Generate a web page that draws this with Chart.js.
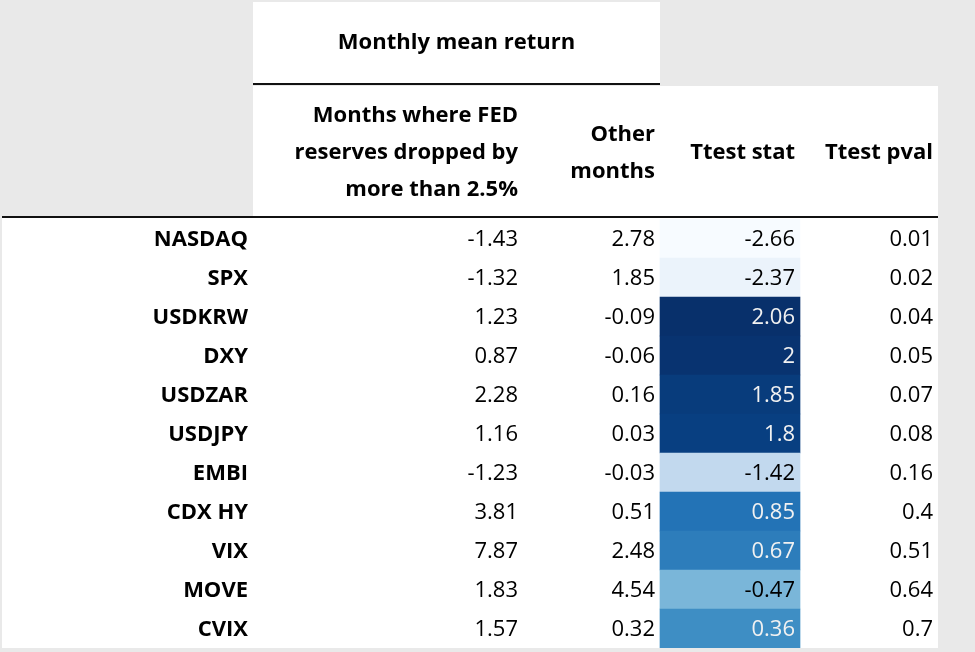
<!DOCTYPE html>
<html>
<head>
<meta charset="utf-8">
<script src="https://cdn.jsdelivr.net/npm/chart.js@4.4.0/dist/chart.umd.min.js"></script>
<style>
  html, body { margin: 0; padding: 0; background: #e9e9e9; }
  #wrap { width: 975px; height: 652px; }
</style>
</head>
<body>
<div id="wrap"><canvas id="tableChart" width="975" height="652"></canvas></div>
<script>
// table data
const rowLabels = ['NASDAQ', 'SPX', 'USDKRW', 'DXY', 'USDZAR', 'USDJPY', 'EMBI', 'CDX HY', 'VIX', 'MOVE', 'CVIX'];
const fedDropMean = [-1.43, -1.32, 1.23, 0.87, 2.28, 1.16, -1.23, 3.81, 7.87, 1.83, 1.57];
const otherMonthsMean = [2.78, 1.85, -0.09, -0.06, 0.16, 0.03, -0.03, 0.51, 2.48, 4.54, 0.32];
const ttestStat = [-2.66, -2.37, 2.06, 2, 1.85, 1.8, -1.42, 0.85, 0.67, -0.47, 0.36];
const ttestPval = [0.01, 0.02, 0.04, 0.05, 0.07, 0.08, 0.16, 0.4, 0.51, 0.64, 0.7];
const groupHeader = 'Monthly mean return';
const columnHeaders = [
    ['Months where FED', 'reserves dropped by', 'more than 2.5%'],
    ['Other', 'months'],
    ['Ttest stat'],
    ['Ttest pval']
];

// column edges along the x scale (index col, 4 value cols)
const colEdges = [0, 251, 521, 658, 798, 936];
const FONT = '"Open Sans", "Noto Sans", sans-serif';
const SIZE = 22;

// matplotlib Blues
const blues = ['#f7fbff', '#deebf7', '#c6dbef', '#9ecae1', '#6baed6', '#4292c6', '#2171b5', '#08519c', '#08306b'];
function hexToRgb(h) {
    return [parseInt(h.substr(1, 2), 16), parseInt(h.substr(3, 2), 16), parseInt(h.substr(5, 2), 16)];
}
function bluesAt(t) {
    t = Math.max(0, Math.min(1, t));
    const pos = t * (blues.length - 1);
    const i = Math.min(Math.floor(pos), blues.length - 2);
    const f = pos - i;
    const a = hexToRgb(blues[i]), b = hexToRgb(blues[i + 1]);
    return a.map((v, k) => Math.round(v + (b[k] - v) * f));
}
function luminance(rgb) {
    const lin = rgb.map(c => {
        c = c / 255;
        return c <= 0.03928 ? c / 12.92 : Math.pow((c + 0.055) / 1.055, 2.4);
    });
    return 0.2126 * lin[0] + 0.7152 * lin[1] + 0.0722 * lin[2];
}

const tMin = Math.min(...ttestStat), tMax = Math.max(...ttestStat);
const heatRgb = ttestStat.map(v => bluesAt((v - tMin) / (tMax - tMin)));
const heatColors = heatRgb.map(c => `rgb(${c[0]},${c[1]},${c[2]})`);
const heatText = heatRgb.map(c => luminance(c) < 0.408 ? '#f1f1f1' : '#000');

function fmt(v) { return String(v); }

const tablePlugin = {
    id: 'tablePlugin',
    beforeDraw(chart) {
        const { ctx, chartArea: a, scales: { x } } = chart;
        const px = v => x.getPixelForValue(v);
        ctx.save();
        ctx.fillStyle = '#e9e9e9';
        ctx.fillRect(0, 0, chart.width, chart.height);
        ctx.fillStyle = '#ffffff';
        // group header box
        ctx.fillRect(px(colEdges[1]), 2, px(colEdges[3]) - px(colEdges[1]), 82);
        // column header row
        ctx.fillRect(px(colEdges[1]), 86, px(colEdges[5]) - px(colEdges[1]), 131);
        // body
        ctx.fillRect(a.left, a.top - 2, a.right - a.left, a.bottom - a.top + 2);
        // rules
        ctx.fillStyle = '#111';
        ctx.fillRect(px(colEdges[1]), 83, px(colEdges[3]) - px(colEdges[1]), 2);
        ctx.fillRect(a.left, 216, a.right - a.left, 2);
        ctx.restore();
    },
    afterDatasetsDraw(chart) {
        const { ctx, scales: { x, y } } = chart;
        const px = v => x.getPixelForValue(v);
        const pad = 5;
        ctx.save();
        ctx.textBaseline = 'middle';

        // headers
        ctx.fillStyle = '#000';
        ctx.font = `bold ${SIZE}px ${FONT}`;
        ctx.textAlign = 'center';
        ctx.fillText(groupHeader, (px(colEdges[1]) + px(colEdges[3])) / 2, 43);
        ctx.textAlign = 'right';
        const lineH = 37;
        const midY = 153;
        columnHeaders.forEach((lines, c) => {
            const top = midY - (lines.length - 1) * lineH / 2;
            lines.forEach((ln, k) => {
                ctx.fillText(ln, px(colEdges[c + 2]) - pad, top + k * lineH);
            });
        });

        // rows
        rowLabels.forEach((lab, i) => {
            const yy = y.getPixelForValue(i) + 1;
            ctx.font = `bold ${SIZE}px ${FONT}`;
            ctx.fillStyle = '#000';
            ctx.fillText(lab, px(colEdges[1]) - pad, yy);
            ctx.font = `${SIZE}px ${FONT}`;
            ctx.fillText(fmt(fedDropMean[i]), px(colEdges[2]) - pad, yy);
            ctx.fillText(fmt(otherMonthsMean[i]), px(colEdges[3]) - pad, yy);
            ctx.fillStyle = heatText[i];
            ctx.fillText(fmt(ttestStat[i]), px(colEdges[4]) - pad, yy);
            ctx.fillStyle = '#000';
            ctx.fillText(fmt(ttestPval[i]), px(colEdges[5]) - pad, yy);
        });
        ctx.restore();
    }
};

const ctx = document.getElementById('tableChart').getContext('2d');
const tableChart = new Chart(ctx, {
    type: 'bar',
    data: {
        labels: rowLabels,
        datasets: [{
            label: 'Ttest stat',
            data: ttestStat.map(() => [colEdges[3], colEdges[4]]),
            backgroundColor: heatColors,
            borderWidth: 0,
            barPercentage: 1,
            categoryPercentage: 1
        }]
    },
    options: {
        indexAxis: 'y',
        responsive: false,
        animation: false,
        layout: { padding: { top: 219, left: 2, right: 37, bottom: 4 } },
        plugins: { legend: { display: false }, tooltip: { enabled: false } },
        scales: {
            x: { type: 'linear', min: colEdges[0], max: colEdges[5], display: false },
            y: { type: 'category', display: false, offset: true }
        }
    },
    plugins: [tablePlugin]
});
</script>
</body>
</html>
